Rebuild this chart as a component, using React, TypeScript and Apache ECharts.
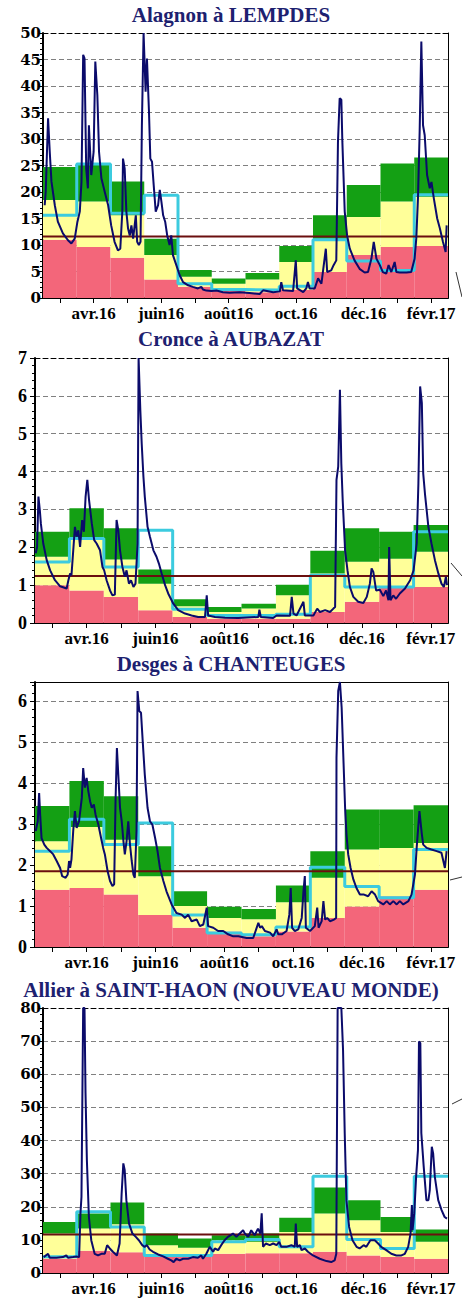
import React, { useEffect, useRef } from 'react';
import * as echarts from 'echarts';

const MONTHS = ['mars.16', 'avr.16', 'mai16', 'juin16', 'juil.16', 'août16', 'sept.16', 'oct.16', 'nov.16', 'déc.16', 'janv.17', 'févr.17'];

// ---------- Alagnon à LEMPDES ----------
const alagnonT = [0.05, 0.08, 0.15, 0.2, 0.25, 0.35, 0.44, 0.59, 0.74, 0.84, 0.94, 1.02, 1.09, 1.14, 1.19, 1.23, 1.28, 1.33, 1.36, 1.43, 1.5, 1.55, 1.61, 1.66, 1.73, 1.83, 1.93, 2.02, 2.12, 2.22, 2.29, 2.35, 2.37, 2.42, 2.47, 2.52, 2.57, 2.62, 2.67, 2.75, 2.79, 2.84, 2.89, 2.93, 2.98, 3.04, 3.08, 3.14, 3.18, 3.23, 3.28, 3.34, 3.41, 3.46, 3.51, 3.56, 3.62, 3.68, 3.75, 3.8, 3.85, 3.95, 4.05, 4.15, 4.3, 4.44, 4.59, 4.69, 4.74, 4.84, 4.99, 5.14, 5.33, 5.53, 5.83, 6.12, 6.42, 6.52, 6.82, 7.02, 7.06, 7.11, 7.41, 7.49, 7.53, 7.71, 7.8, 7.85, 7.9, 8.05, 8.15, 8.25, 8.38, 8.42, 8.54, 8.61, 8.69, 8.74, 8.79, 8.84, 8.87, 8.94, 9.01, 9.09, 9.23, 9.38, 9.53, 9.63, 9.73, 9.8, 9.88, 9.98, 10.07, 10.17, 10.24, 10.32, 10.42, 10.47, 10.57, 10.77, 10.91, 11.01, 11.06, 11.11, 11.16, 11.21, 11.26, 11.31, 11.38, 11.46, 11.51, 11.58, 11.68, 11.76, 11.85, 11.93, 11.96];
const alagnonQ = [17.5, 20, 33.9, 27.6, 22.0, 17.5, 14.4, 12.2, 10.9, 10.3, 11.2, 14.4, 16.3, 21.9, 45.9, 45.2, 24.4, 20.7, 32.6, 23.2, 27.6, 44.6, 38.3, 27.6, 22.6, 20.0, 17.5, 13.7, 10.6, 9.0, 9.3, 16.3, 26.3, 24.4, 16.3, 13.1, 11.8, 13.7, 11.2, 15.6, 10.6, 10.0, 10.6, 32.6, 50, 38.9, 45.2, 35.2, 26.3, 25.7, 21.3, 16.3, 17.5, 20.4, 18.1, 15.6, 14.4, 11.8, 10.0, 11.8, 8.1, 6.2, 4.3, 3.0, 2.4, 2.1, 1.8, 2.1, 1.6, 1.4, 1.3, 1.4, 1.1, 1.0, 1.1, 0.95, 0.75, 1.45, 1.1, 1.25, 3.0, 1.45, 1.3, 7.1, 1.8, 1.1, 1.8, 3.0, 1.8, 1.8, 3.7, 2.7, 9.3, 4.9, 5.2, 6.2, 7.1, 29.5, 37.7, 37.4, 29.5, 16.3, 11.8, 9.3, 7.1, 5.5, 4.8, 4.9, 7.4, 10.6, 7.4, 6.2, 4.9, 4.6, 6.2, 4.9, 6.8, 4.9, 4.8, 4.8, 4.9, 7.4, 11.2, 18.8, 31.4, 48.4, 32.6, 30.7, 23.2, 20.7, 21.9, 18.8, 15.0, 13.1, 10.6, 8.7, 13.7];
const alagnonRed = [11.0, 9.6, 7.6, 3.5, 2.1, 1.3, 1.1, 1.5, 4.9, 8.1, 9.6, 9.8];
const alagnonYellow = [18.5, 18.2, 15.6, 8.1, 4.0, 2.7, 3.5, 6.8, 11.2, 15.3, 18.2, 19.1];
const alagnonGreen = [24.7, 25.2, 22.0, 11.2, 5.3, 3.7, 4.7, 9.8, 15.6, 21.3, 25.4, 26.5];
const alagnonMean = [15.6, 25.3, 16.0, 19.4, 2.7, 1.6, 1.5, 2.2, 11.0, 7.0, 5.2, 19.5];
const alagnonModule = 11.6;

// ---------- Cronce à AUBAZAT ----------
const cronceT = [0.02, 0.06, 0.1, 0.14, 0.17, 0.24, 0.34, 0.44, 0.58, 0.73, 0.92, 0.97, 1.02, 1.06, 1.16, 1.21, 1.26, 1.31, 1.37, 1.42, 1.47, 1.52, 1.57, 1.65, 1.72, 1.79, 1.89, 1.96, 2.01, 2.08, 2.18, 2.25, 2.32, 2.37, 2.42, 2.47, 2.54, 2.61, 2.66, 2.73, 2.79, 2.86, 2.92, 2.98, 3.01, 3.06, 3.1, 3.15, 3.19, 3.27, 3.34, 3.44, 3.53, 3.6, 3.68, 3.78, 3.87, 4.02, 4.16, 4.36, 4.55, 4.74, 4.94, 4.99, 5.03, 5.23, 5.52, 5.91, 6.49, 6.52, 6.56, 6.92, 7.02, 7.41, 7.46, 7.51, 7.6, 7.8, 7.84, 8.09, 8.2, 8.28, 8.43, 8.57, 8.67, 8.72, 8.76, 8.81, 8.86, 8.9, 8.94, 9.01, 9.08, 9.15, 9.25, 9.39, 9.54, 9.64, 9.73, 9.78, 9.83, 9.91, 10.02, 10.12, 10.2, 10.27, 10.29, 10.33, 10.41, 10.49, 10.6, 10.75, 10.9, 11.0, 11.09, 11.14, 11.19, 11.24, 11.28, 11.33, 11.43, 11.52, 11.62, 11.72, 11.81, 11.88, 11.94, 11.97];
const cronceQ = [1.84, 2.0, 3.34, 2.98, 2.63, 2.1, 1.66, 1.39, 1.13, 0.97, 0.91, 1.13, 1.31, 1.26, 2.54, 2.28, 2.45, 2.01, 2.72, 2.41, 3.34, 3.78, 3.25, 2.63, 2.19, 2.1, 1.92, 1.48, 1.39, 1.13, 0.86, 0.73, 0.75, 2.72, 2.45, 1.92, 1.48, 1.22, 1.39, 1.04, 1.13, 0.95, 1.04, 2.1, 7.0, 5.63, 4.75, 3.87, 3.34, 2.54, 2.28, 1.92, 1.75, 1.57, 1.31, 1.0, 0.78, 0.51, 0.34, 0.25, 0.2, 0.16, 0.16, 0.73, 0.2, 0.16, 0.14, 0.13, 0.16, 0.35, 0.16, 0.13, 0.2, 0.19, 0.69, 0.25, 0.2, 0.56, 0.2, 0.2, 0.38, 0.29, 0.34, 0.29, 0.38, 0.42, 3.78, 4.13, 6.16, 4.22, 3.25, 1.92, 1.39, 0.95, 0.69, 0.56, 0.53, 0.69, 1.04, 1.44, 1.35, 0.86, 0.88, 0.71, 0.86, 0.6, 2.01, 0.6, 0.73, 0.64, 0.78, 0.91, 1.13, 1.39, 2.1, 3.69, 6.25, 5.81, 3.95, 3.42, 2.54, 2.1, 1.66, 1.31, 1.04, 0.95, 1.22, 1.0];
const cronceRed = [1.0, 0.86, 0.69, 0.34, 0.16, 0.11, 0.11, 0.11, 0.29, 0.56, 0.94, 0.95];
const cronceYellow = [1.75, 2.19, 1.68, 1.04, 0.44, 0.29, 0.38, 0.73, 1.31, 1.62, 1.7, 1.88];
const cronceGreen = [2.41, 3.03, 2.5, 1.41, 0.63, 0.42, 0.51, 1.01, 1.91, 2.5, 2.41, 2.59];
const cronceMean = [1.61, 2.23, 1.48, 2.45, 0.36, 0.2, 0.2, 0.23, 1.26, 0.95, 0.95, 2.41];
const cronceModule = 1.24;

// ---------- Desges à CHANTEUGES ----------
const desgesT = [0.02, 0.08, 0.12, 0.15, 0.19, 0.27, 0.34, 0.44, 0.53, 0.63, 0.73, 0.79, 0.89, 0.95, 0.99, 1.02, 1.06, 1.11, 1.16, 1.21, 1.28, 1.36, 1.4, 1.45, 1.5, 1.55, 1.6, 1.65, 1.71, 1.76, 1.84, 1.92, 1.98, 2.03, 2.11, 2.18, 2.25, 2.3, 2.34, 2.38, 2.42, 2.47, 2.52, 2.57, 2.61, 2.66, 2.71, 2.76, 2.81, 2.86, 2.9, 2.95, 2.98, 3.03, 3.08, 3.13, 3.19, 3.27, 3.34, 3.41, 3.49, 3.56, 3.63, 3.73, 3.82, 3.97, 4.11, 4.26, 4.36, 4.45, 4.55, 4.7, 4.79, 4.89, 4.99, 5.03, 5.18, 5.32, 5.47, 5.61, 5.76, 5.91, 6.15, 6.34, 6.49, 6.54, 6.59, 6.68, 6.83, 6.92, 7.02, 7.07, 7.17, 7.31, 7.39, 7.43, 7.47, 7.55, 7.65, 7.75, 7.8, 7.84, 7.87, 7.99, 8.13, 8.2, 8.24, 8.33, 8.38, 8.43, 8.49, 8.57, 8.69, 8.75, 8.76, 8.81, 8.86, 8.91, 8.96, 9.01, 9.05, 9.1, 9.17, 9.25, 9.34, 9.44, 9.56, 9.68, 9.78, 9.88, 9.97, 10.12, 10.22, 10.31, 10.41, 10.51, 10.6, 10.7, 10.85, 10.94, 11.04, 11.09, 11.17, 11.24, 11.28, 11.38, 11.52, 11.67, 11.81, 11.91, 11.96];
const desgesQ = [2.83, 3.07, 3.76, 3.23, 2.66, 2.5, 2.42, 2.34, 2.26, 2.1, 1.93, 1.73, 1.69, 1.77, 2.1, 1.93, 2.14, 2.83, 3.32, 2.91, 3.07, 3.64, 4.37, 3.89, 4.13, 3.8, 3.56, 3.4, 3.48, 3.23, 2.99, 2.66, 2.42, 2.26, 1.85, 1.61, 1.49, 1.53, 3.56, 4.86, 4.21, 3.4, 3.07, 2.58, 2.26, 2.58, 3.07, 2.5, 2.1, 1.77, 1.69, 2.83, 6.25, 5.76, 5.72, 5.02, 4.21, 3.4, 3.07, 2.99, 2.66, 2.34, 1.93, 1.61, 1.36, 1.04, 0.83, 0.79, 0.71, 0.79, 0.63, 0.67, 0.51, 0.55, 0.96, 0.51, 0.47, 0.39, 0.39, 0.31, 0.26, 0.26, 0.22, 0.22, 0.59, 0.47, 0.51, 0.39, 0.35, 0.26, 0.43, 0.31, 0.31, 0.39, 0.79, 1.44, 0.47, 0.39, 0.43, 0.71, 1.36, 1.73, 0.47, 0.39, 0.51, 0.96, 0.47, 0.63, 1.12, 0.67, 0.71, 0.63, 0.67, 0.71, 4.62, 6.25, 6.47, 5.84, 4.62, 3.4, 2.75, 2.26, 1.93, 1.65, 1.44, 1.28, 1.28, 1.24, 1.36, 1.28, 1.12, 1.04, 1.12, 1.04, 1.12, 1.04, 1.12, 1.04, 1.12, 1.28, 1.77, 2.42, 3.32, 2.75, 2.5, 2.42, 2.38, 2.34, 2.3, 1.93, 2.34];
const desgesRed = [1.4, 1.44, 1.28, 0.78, 0.47, 0.38, 0.26, 0.38, 0.71, 0.99, 1.24, 1.4];
const desgesYellow = [2.58, 2.93, 2.62, 1.73, 1.0, 0.71, 0.68, 1.09, 1.69, 2.38, 2.42, 2.54];
const desgesGreen = [3.44, 4.05, 3.68, 2.46, 1.36, 0.98, 0.93, 1.5, 2.34, 3.36, 3.36, 3.46];
const desgesMean = [2.34, 3.12, 2.5, 3.03, 0.78, 0.34, 0.3, 0.49, 1.95, 1.48, 1.2, 2.38];
const desgesModule = 1.85;

// ---------- Allier à SAINT-HAON ----------
const allierT = [0.02, 0.15, 0.2, 0.4, 0.59, 0.69, 0.74, 0.89, 0.99, 1.07, 1.11, 1.14, 1.19, 1.23, 1.26, 1.3, 1.36, 1.43, 1.53, 1.63, 1.73, 1.83, 1.9, 1.98, 2.07, 2.19, 2.27, 2.33, 2.38, 2.42, 2.47, 2.55, 2.65, 2.75, 2.84, 2.94, 3.01, 3.08, 3.16, 3.26, 3.41, 3.56, 3.7, 3.8, 3.87, 3.95, 4.05, 4.15, 4.3, 4.44, 4.59, 4.69, 4.74, 4.84, 4.94, 5.04, 5.09, 5.19, 5.28, 5.38, 5.48, 5.63, 5.73, 5.83, 5.93, 5.98, 6.08, 6.17, 6.27, 6.37, 6.44, 6.48, 6.52, 6.6, 6.72, 6.82, 6.92, 7.0, 7.06, 7.21, 7.36, 7.46, 7.49, 7.53, 7.61, 7.66, 7.76, 7.85, 8.0, 8.2, 8.4, 8.54, 8.64, 8.69, 8.73, 8.84, 8.89, 8.94, 8.99, 9.07, 9.17, 9.29, 9.38, 9.5, 9.58, 9.7, 9.83, 9.93, 10.02, 10.17, 10.32, 10.47, 10.62, 10.72, 10.82, 10.89, 10.93, 10.95, 11.0, 11.06, 11.11, 11.14, 11.18, 11.21, 11.28, 11.36, 11.42, 11.46, 11.52, 11.56, 11.61, 11.71, 11.81, 11.9, 11.97];
const allierQ = [4.8, 5.8, 4.6, 4.6, 4.8, 5.3, 4.6, 4.8, 5.0, 4.8, 18, 23, 80, 80, 54.3, 34.1, 16.9, 9.9, 5.8, 5.3, 5.8, 5.8, 8.4, 7.4, 6.4, 5.3, 8.9, 24, 33.1, 31.1, 22, 14.9, 11.9, 10.9, 9.9, 8.4, 7.9, 8.4, 7.1, 6.4, 5.6, 5.0, 4.3, 3.8, 3.3, 4.3, 3.8, 4.3, 4.3, 4.8, 4.6, 5.3, 4.3, 5.8, 7.9, 6.4, 7.4, 6.9, 8.4, 9.9, 10.9, 11.9, 10.9, 11.9, 12.9, 11.9, 10.9, 12.9, 11.4, 13.4, 11.9, 18.0, 7.9, 8.9, 8.4, 8.9, 8.4, 9.4, 7.9, 7.9, 8.4, 7.9, 14.9, 7.9, 8.4, 6.9, 7.4, 6.4, 5.3, 4.3, 3.6, 3.3, 3.8, 5.8, 80, 80, 67.4, 42.2, 22, 13.9, 9.9, 7.9, 7.4, 8.4, 7.9, 9.9, 9.9, 8.9, 7.9, 6.9, 5.8, 5.3, 5.3, 5.8, 7.9, 11.9, 20.5, 12.9, 18, 30, 37.1, 69.9, 69.4, 42.2, 32.1, 22, 22, 25, 38.1, 36.1, 29, 22, 19, 16.9, 16.4];
const allierRed = [4.3, 6.7, 6.3, 4.8, 4.8, 5.8, 6.0, 6.0, 6.4, 5.3, 4.8, 4.3];
const allierYellow = [11.9, 13.4, 14.7, 8.4, 7.6, 9.9, 9.4, 12.4, 18.0, 15.9, 12.4, 9.4];
const allierGreen = [15.4, 18.0, 21.3, 11.9, 10.4, 11.4, 11.9, 16.7, 25.8, 22.0, 16.9, 13.1];
const allierMean = [4.9, 18.5, 13.9, 5.3, 5.3, 9.4, 10.1, 7.9, 29.2, 10.1, 7.4, 29.2];
const allierModule = 11.6;

const PANELS = [
  { title: 'Alagnon à LEMPDES', t: alagnonT, q: alagnonQ, red: alagnonRed, yellow: alagnonYellow, green: alagnonGreen, mean: alagnonMean, module: alagnonModule, max: 50, interval: 5 },
  { title: 'Cronce à AUBAZAT', t: cronceT, q: cronceQ, red: cronceRed, yellow: cronceYellow, green: cronceGreen, mean: cronceMean, module: cronceModule, max: 7, interval: 1 },
  { title: 'Desges à CHANTEUGES', t: desgesT, q: desgesQ, red: desgesRed, yellow: desgesYellow, green: desgesGreen, mean: desgesMean, module: desgesModule, max: 6.47, interval: 1 },
  { title: 'Allier à SAINT-HAON (NOUVEAU MONDE)', t: allierT, q: allierQ, red: allierRed, yellow: allierYellow, green: allierGreen, mean: allierMean, module: allierModule, max: 80, interval: 10 },
];

const LAYOUT = [
  { left: 43, top: 33, titleTop: 4, wide: true, topSolid: false },
  { left: 35, top: 358, titleTop: 328, wide: false, topSolid: false },
  { left: 35, top: 682, titleTop: 653, wide: false, topSolid: true },
  { left: 43, top: 1008, titleTop: 979, wide: true, topSolid: false },
];

const SERIF = "'Liberation Serif', 'Times New Roman', serif";
const WIDE_SERIF = "'DejaVu Serif', 'Liberation Serif', serif";
const RED = '#f3667a';
const YELLOW = '#ffff99';
const GREEN = '#14a014';
const CYAN = '#3ccbdf';
const NAVY = '#0b0b6b';
const MODULE = '#6b0f0f';
const TITLE = '#1d2170';

export default function App() {
  const ref = useRef<HTMLDivElement>(null);

  useEffect(() => {
    document.body.style.margin = '0';
    if (!ref.current) return;
    const chart = echarts.init(ref.current, null, { renderer: 'svg' });

    const grid: any[] = [];
    const xAxis: any[] = [];
    const yAxis: any[] = [];
    const series: any[] = [];
    const title: any[] = [];

    PANELS.forEach((p, i) => {
      const l = LAYOUT[i];
      title.push({
        text: p.title,
        left: 'center',
        top: l.titleTop,
        padding: 0,
        textStyle: { fontFamily: SERIF, fontWeight: 'bold', fontSize: 21, color: TITLE },
      });
      grid.push({ left: l.left, top: l.top, width: 448 - l.left, height: 265 });
      xAxis.push({
        gridIndex: i,
        type: 'category',
        data: MONTHS,
        position: 'bottom',
        boundaryGap: true,
        axisLine: { show: true, onZero: false, lineStyle: { color: '#000', width: 2 } },
        axisTick: { show: true, alignWithLabel: true, interval: 0, length: 5, lineStyle: { color: '#000', width: 1 } },
        axisLabel: {
          interval: (idx: number) => idx % 2 === 1,
          margin: 7,
          fontFamily: SERIF,
          fontWeight: 'bold',
          fontSize: 17,
          color: '#000',
        },
        splitLine: { show: false },
      });
      xAxis.push({
        gridIndex: i,
        type: 'value',
        min: 0,
        max: 12,
        position: 'top',
        axisLine: { show: true, onZero: false, lineStyle: { color: '#000', width: 1, type: l.topSolid ? 'solid' : [5, 3] } },
        axisTick: { show: false },
        axisLabel: { show: false },
        splitLine: { show: false },
      });
      yAxis.push({
        gridIndex: i,
        type: 'value',
        min: 0,
        max: p.max,
        interval: p.interval,
        axisLine: { show: true, onZero: false, lineStyle: { color: '#000', width: 2 } },
        axisTick: { show: true, length: 5, lineStyle: { color: '#000', width: 1 } },
        minorTick: { show: true, splitNumber: 5, length: 3, lineStyle: { color: '#000', width: 1 } },
        minorSplitLine: { show: false },
        axisLabel: {
          margin: l.wide ? 2 : 8,
          fontFamily: l.wide ? WIDE_SERIF : SERIF,
          fontWeight: 'bold',
          fontSize: l.wide ? 15 : 18,
          color: '#000',
          formatter: (v: number) => (Math.abs(v - Math.round(v)) < 1e-6 ? String(Math.round(v)) : ''),
        },
        splitLine: { show: true, lineStyle: { color: '#808080', width: 1, type: [5, 3] } },
      });
      yAxis.push({
        gridIndex: i,
        type: 'value',
        min: 0,
        max: p.max,
        position: 'right',
        axisLine: { show: true, onZero: false, lineStyle: { color: '#000', width: 1 } },
        axisTick: { show: false },
        axisLabel: { show: false },
        splitLine: { show: false },
      });

      const catIdx = 2 * i;
      const valIdx = 2 * i + 1;
      const yIdx = 2 * i;
      const stack = 'bands' + i;
      const bandBase = { type: 'bar', xAxisIndex: catIdx, yAxisIndex: yIdx, stack, barCategoryGap: '0%', barGap: '0%', silent: true };
      series.push({ ...bandBase, name: 'red' + i, data: p.red, itemStyle: { color: RED } });
      series.push({ ...bandBase, name: 'yellow' + i, data: p.yellow.map((v, j) => +(v - p.red[j]).toFixed(3)), itemStyle: { color: YELLOW } });
      series.push({ ...bandBase, name: 'green' + i, data: p.green.map((v, j) => +(v - p.yellow[j]).toFixed(3)), itemStyle: { color: GREEN } });
      series.push({
        type: 'line',
        xAxisIndex: valIdx,
        yAxisIndex: yIdx,
        step: 'end',
        showSymbol: false,
        silent: true,
        data: p.mean.map((v, j) => [j, v]).concat([[12, p.mean[11]]]),
        lineStyle: { color: CYAN, width: 3 },
      });
      series.push({
        type: 'line',
        xAxisIndex: valIdx,
        yAxisIndex: yIdx,
        showSymbol: false,
        silent: true,
        data: [[0, p.module], [12, p.module]],
        lineStyle: { color: MODULE, width: 2 },
      });
      series.push({
        type: 'line',
        xAxisIndex: valIdx,
        yAxisIndex: yIdx,
        showSymbol: false,
        silent: true,
        clip: true,
        data: p.t.map((x, j) => [x, p.q[j]]),
        lineStyle: { color: NAVY, width: 2 },
      });
    });

    const stroke = { stroke: '#333', lineWidth: 1 };
    chart.setOption({
      animation: false,
      backgroundColor: '#fff',
      title,
      grid,
      xAxis,
      yAxis,
      series,
      graphic: [
        { type: 'line', shape: { x1: 456, y1: 272, x2: 462, y2: 297 }, style: stroke },
        { type: 'line', shape: { x1: 451, y1: 563, x2: 462, y2: 576 }, style: stroke },
        { type: 'line', shape: { x1: 450, y1: 880, x2: 462, y2: 877 }, style: stroke },
        { type: 'line', shape: { x1: 452, y1: 1104, x2: 462, y2: 1099 }, style: stroke },
      ],
    });

    return () => chart.dispose();
  }, []);

  return <div ref={ref} style={{ width: 462, height: 1302 }} />;
}
